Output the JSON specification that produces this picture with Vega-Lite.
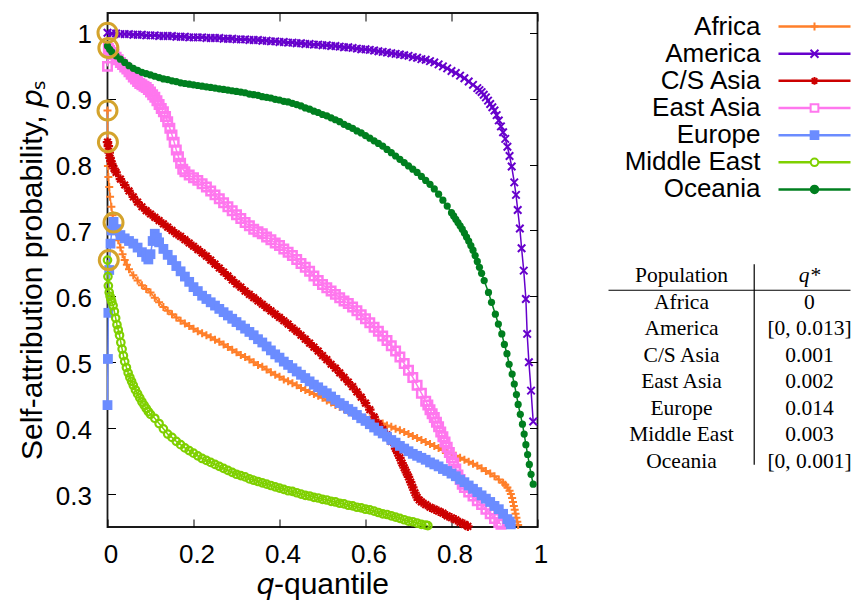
{
  "$schema": "https://vega.github.io/schema/vega-lite/v6.json",
  "padding": {"left": 15.5, "top": 11, "right": 0, "bottom": 0},
  "background": "white",
  "spacing": 64,
  "bounds": "flush",
  "config": {
    "view": {"stroke": null},
    "font": "Liberation Sans",
    "axis": {
      "grid": false,
      "domain": false,
      "tickColor": "#000",
      "tickWidth": 1,
      "tickSize": -8,
      "labelColor": "#000",
      "titleColor": "#000",
      "labelFont": "Liberation Sans",
      "titleFont": "Liberation Sans",
      "titleFontWeight": "normal",
      "labelFontSize": 26,
      "titleFontSize": 30
    }
  },
  "datasets": {
    "africa": [
      {"q":0,"p":0.882},{"q":0.001,"p":0.798},{"q":0.002,"p":0.781},{"q":0.004,"p":0.766},{"q":0.006,"p":0.751},{"q":0.009,"p":0.736},{"q":0.012,"p":0.723},{"q":0.016,"p":0.708},{"q":0.02,"p":0.697},{"q":0.025,"p":0.685},{"q":0.03,"p":0.674},{"q":0.035,"p":0.664},{"q":0.04,"p":0.655},{"q":0.045,"p":0.648},{"q":0.05,"p":0.641},{"q":0.06,"p":0.632},{"q":0.07,"p":0.624},{"q":0.08,"p":0.617},{"q":0.09,"p":0.611},{"q":0.1,"p":0.606},
      {"q":0.11,"p":0.598},{"q":0.12,"p":0.591},{"q":0.13,"p":0.584},{"q":0.14,"p":0.578},{"q":0.15,"p":0.573},{"q":0.16,"p":0.568},{"q":0.17,"p":0.563},{"q":0.18,"p":0.559},{"q":0.19,"p":0.555},{"q":0.2,"p":0.551},
      {"q":0.21,"p":0.547},{"q":0.22,"p":0.544},{"q":0.23,"p":0.541},{"q":0.24,"p":0.538},{"q":0.25,"p":0.534},{"q":0.26,"p":0.531},{"q":0.27,"p":0.527},{"q":0.28,"p":0.523},{"q":0.29,"p":0.519},{"q":0.3,"p":0.515},
      {"q":0.31,"p":0.511},{"q":0.32,"p":0.508},{"q":0.33,"p":0.504},{"q":0.34,"p":0.5},{"q":0.35,"p":0.496},{"q":0.36,"p":0.493},{"q":0.37,"p":0.489},{"q":0.38,"p":0.485},{"q":0.39,"p":0.481},{"q":0.4,"p":0.478},
      {"q":0.41,"p":0.474},{"q":0.42,"p":0.471},{"q":0.43,"p":0.468},{"q":0.44,"p":0.465},{"q":0.45,"p":0.461},{"q":0.46,"p":0.458},{"q":0.47,"p":0.455},{"q":0.48,"p":0.452},{"q":0.49,"p":0.449},{"q":0.5,"p":0.446},
      {"q":0.51,"p":0.442},{"q":0.52,"p":0.439},{"q":0.53,"p":0.435},{"q":0.54,"p":0.432},{"q":0.55,"p":0.429},{"q":0.56,"p":0.426},{"q":0.57,"p":0.423},{"q":0.58,"p":0.42},{"q":0.59,"p":0.417},{"q":0.6,"p":0.415},
      {"q":0.61,"p":0.413},{"q":0.62,"p":0.411},{"q":0.63,"p":0.409},{"q":0.64,"p":0.407},{"q":0.65,"p":0.404},{"q":0.66,"p":0.402},{"q":0.67,"p":0.399},{"q":0.68,"p":0.397},{"q":0.69,"p":0.394},{"q":0.7,"p":0.391},
      {"q":0.71,"p":0.388},{"q":0.72,"p":0.385},{"q":0.73,"p":0.382},{"q":0.74,"p":0.379},{"q":0.75,"p":0.376},{"q":0.76,"p":0.373},{"q":0.77,"p":0.37},{"q":0.78,"p":0.367},{"q":0.79,"p":0.364},{"q":0.8,"p":0.361},
      {"q":0.81,"p":0.358},{"q":0.82,"p":0.355},{"q":0.83,"p":0.352},{"q":0.84,"p":0.349},{"q":0.85,"p":0.346},{"q":0.86,"p":0.343},{"q":0.87,"p":0.339},{"q":0.88,"p":0.335},{"q":0.89,"p":0.331},{"q":0.9,"p":0.327},
      {"q":0.91,"p":0.322},{"q":0.92,"p":0.317},{"q":0.925,"p":0.314},{"q":0.93,"p":0.31},{"q":0.935,"p":0.305},{"q":0.938,"p":0.3},{"q":0.941,"p":0.294},{"q":0.943,"p":0.288},{"q":0.945,"p":0.282},{"q":0.947,"p":0.276},{"q":0.949,"p":0.27},{"q":0.951,"p":0.264},{"q":0.953,"p":0.258},{"q":0.955,"p":0.253}
    ],
    "america": [
      {"q":0,"p":1},{"q":0.01,"p":0.999},{"q":0.02,"p":0.999},{"q":0.03,"p":0.998},{"q":0.04,"p":0.998},{"q":0.05,"p":0.998},{"q":0.06,"p":0.997},{"q":0.07,"p":0.997},{"q":0.08,"p":0.997},{"q":0.09,"p":0.996},{"q":0.1,"p":0.996},
      {"q":0.11,"p":0.996},{"q":0.12,"p":0.995},{"q":0.13,"p":0.995},{"q":0.14,"p":0.995},{"q":0.15,"p":0.995},{"q":0.16,"p":0.994},{"q":0.17,"p":0.994},{"q":0.18,"p":0.994},{"q":0.19,"p":0.993},{"q":0.2,"p":0.993},
      {"q":0.21,"p":0.993},{"q":0.22,"p":0.993},{"q":0.23,"p":0.992},{"q":0.24,"p":0.992},{"q":0.25,"p":0.992},{"q":0.26,"p":0.992},{"q":0.27,"p":0.991},{"q":0.28,"p":0.991},{"q":0.29,"p":0.991},{"q":0.3,"p":0.99},
      {"q":0.31,"p":0.99},{"q":0.32,"p":0.99},{"q":0.33,"p":0.989},{"q":0.34,"p":0.989},{"q":0.35,"p":0.989},{"q":0.36,"p":0.988},{"q":0.37,"p":0.988},{"q":0.38,"p":0.987},{"q":0.39,"p":0.987},{"q":0.4,"p":0.986},
      {"q":0.41,"p":0.986},{"q":0.42,"p":0.985},{"q":0.43,"p":0.985},{"q":0.44,"p":0.984},{"q":0.45,"p":0.984},{"q":0.46,"p":0.983},{"q":0.47,"p":0.983},{"q":0.48,"p":0.982},{"q":0.49,"p":0.982},{"q":0.5,"p":0.981},
      {"q":0.51,"p":0.981},{"q":0.52,"p":0.98},{"q":0.53,"p":0.98},{"q":0.54,"p":0.979},{"q":0.55,"p":0.978},{"q":0.56,"p":0.978},{"q":0.57,"p":0.977},{"q":0.58,"p":0.976},{"q":0.59,"p":0.975},{"q":0.6,"p":0.975},
      {"q":0.61,"p":0.974},{"q":0.62,"p":0.973},{"q":0.63,"p":0.972},{"q":0.64,"p":0.971},{"q":0.65,"p":0.97},{"q":0.66,"p":0.969},{"q":0.67,"p":0.968},{"q":0.68,"p":0.967},{"q":0.69,"p":0.966},{"q":0.7,"p":0.965},
      {"q":0.71,"p":0.963},{"q":0.72,"p":0.962},{"q":0.73,"p":0.96},{"q":0.74,"p":0.959},{"q":0.75,"p":0.957},{"q":0.76,"p":0.955},{"q":0.77,"p":0.952},{"q":0.78,"p":0.949},{"q":0.79,"p":0.946},{"q":0.8,"p":0.942},
      {"q":0.81,"p":0.939},{"q":0.82,"p":0.935},{"q":0.83,"p":0.931},{"q":0.84,"p":0.926},{"q":0.85,"p":0.921},{"q":0.86,"p":0.916},{"q":0.865,"p":0.913},{"q":0.87,"p":0.91},{"q":0.875,"p":0.906},{"q":0.88,"p":0.902},
      {"q":0.885,"p":0.897},{"q":0.89,"p":0.892},{"q":0.895,"p":0.887},{"q":0.9,"p":0.882},{"q":0.905,"p":0.875},{"q":0.91,"p":0.867},{"q":0.915,"p":0.858},{"q":0.92,"p":0.849},{"q":0.925,"p":0.839},{"q":0.93,"p":0.827},
      {"q":0.935,"p":0.813},{"q":0.94,"p":0.797},{"q":0.946,"p":0.773},{"q":0.95,"p":0.754},{"q":0.954,"p":0.731},{"q":0.959,"p":0.703},{"q":0.963,"p":0.673},{"q":0.968,"p":0.639},{"q":0.973,"p":0.596},{"q":0.976,"p":0.543},
      {"q":0.98,"p":0.5},{"q":0.985,"p":0.457},{"q":0.99,"p":0.41}
    ],
    "csasia": [
      {"q":0,"p":0.834},{"q":0.002,"p":0.828},{"q":0.004,"p":0.818},{"q":0.006,"p":0.81},{"q":0.008,"p":0.805},{"q":0.01,"p":0.801},{"q":0.015,"p":0.794},{"q":0.02,"p":0.788},{"q":0.03,"p":0.778},{"q":0.04,"p":0.769},{"q":0.05,"p":0.76},
      {"q":0.06,"p":0.751},{"q":0.07,"p":0.743},{"q":0.08,"p":0.736},{"q":0.09,"p":0.73},{"q":0.1,"p":0.725},{"q":0.11,"p":0.72},{"q":0.12,"p":0.715},{"q":0.13,"p":0.71},{"q":0.14,"p":0.705},{"q":0.15,"p":0.7},
      {"q":0.16,"p":0.695},{"q":0.17,"p":0.691},{"q":0.18,"p":0.686},{"q":0.19,"p":0.681},{"q":0.2,"p":0.676},{"q":0.21,"p":0.671},{"q":0.22,"p":0.666},{"q":0.23,"p":0.661},{"q":0.24,"p":0.655},{"q":0.25,"p":0.649},
      {"q":0.26,"p":0.643},{"q":0.27,"p":0.637},{"q":0.28,"p":0.631},{"q":0.29,"p":0.625},{"q":0.3,"p":0.619},{"q":0.31,"p":0.614},{"q":0.32,"p":0.608},{"q":0.33,"p":0.603},{"q":0.34,"p":0.598},{"q":0.35,"p":0.593},
      {"q":0.36,"p":0.588},{"q":0.37,"p":0.583},{"q":0.38,"p":0.578},{"q":0.39,"p":0.573},{"q":0.4,"p":0.568},{"q":0.41,"p":0.563},{"q":0.42,"p":0.558},{"q":0.43,"p":0.552},{"q":0.44,"p":0.547},{"q":0.45,"p":0.541},
      {"q":0.46,"p":0.535},{"q":0.47,"p":0.529},{"q":0.48,"p":0.523},{"q":0.49,"p":0.517},{"q":0.5,"p":0.51},{"q":0.51,"p":0.504},{"q":0.52,"p":0.497},{"q":0.53,"p":0.491},{"q":0.54,"p":0.484},{"q":0.55,"p":0.477},
      {"q":0.56,"p":0.47},{"q":0.57,"p":0.463},{"q":0.58,"p":0.455},{"q":0.59,"p":0.447},{"q":0.6,"p":0.438},{"q":0.61,"p":0.428},{"q":0.62,"p":0.417},{"q":0.63,"p":0.407},{"q":0.64,"p":0.398},{"q":0.65,"p":0.39},
      {"q":0.66,"p":0.38},{"q":0.67,"p":0.369},{"q":0.675,"p":0.362},{"q":0.68,"p":0.355},{"q":0.685,"p":0.347},{"q":0.69,"p":0.34},{"q":0.695,"p":0.333},{"q":0.7,"p":0.326},{"q":0.705,"p":0.318},{"q":0.71,"p":0.31},
      {"q":0.715,"p":0.302},{"q":0.72,"p":0.295},{"q":0.725,"p":0.291},{"q":0.73,"p":0.288},{"q":0.74,"p":0.284},{"q":0.75,"p":0.28},{"q":0.76,"p":0.277},{"q":0.77,"p":0.274},{"q":0.78,"p":0.271},{"q":0.79,"p":0.267},
      {"q":0.8,"p":0.264},{"q":0.81,"p":0.261},{"q":0.82,"p":0.257},{"q":0.83,"p":0.254},{"q":0.838,"p":0.251}
    ],
    "eastasia": [
      {"q":0,"p":0.949},{"q":0.002,"p":0.976},{"q":0.005,"p":0.973},{"q":0.01,"p":0.97},{"q":0.015,"p":0.967},{"q":0.02,"p":0.963},{"q":0.025,"p":0.959},{"q":0.03,"p":0.955},{"q":0.035,"p":0.952},{"q":0.04,"p":0.948},{"q":0.045,"p":0.945},{"q":0.05,"p":0.941},
      {"q":0.055,"p":0.937},{"q":0.06,"p":0.933},{"q":0.065,"p":0.93},{"q":0.07,"p":0.926},{"q":0.075,"p":0.923},{"q":0.08,"p":0.921},{"q":0.085,"p":0.919},{"q":0.09,"p":0.917},{"q":0.095,"p":0.914},{"q":0.1,"p":0.91},{"q":0.105,"p":0.906},{"q":0.11,"p":0.902},{"q":0.115,"p":0.897},{"q":0.12,"p":0.891},{"q":0.125,"p":0.885},
      {"q":0.13,"p":0.88},{"q":0.135,"p":0.873},{"q":0.14,"p":0.865},{"q":0.145,"p":0.855},{"q":0.15,"p":0.845},{"q":0.155,"p":0.834},{"q":0.16,"p":0.822},{"q":0.165,"p":0.812},{"q":0.17,"p":0.802},{"q":0.175,"p":0.793},
      {"q":0.18,"p":0.789},{"q":0.19,"p":0.784},{"q":0.2,"p":0.78},{"q":0.21,"p":0.776},{"q":0.22,"p":0.771},{"q":0.23,"p":0.766},{"q":0.24,"p":0.76},{"q":0.25,"p":0.754},{"q":0.26,"p":0.748},{"q":0.27,"p":0.742},
      {"q":0.28,"p":0.736},{"q":0.29,"p":0.73},{"q":0.3,"p":0.724},{"q":0.31,"p":0.718},{"q":0.32,"p":0.712},{"q":0.33,"p":0.707},{"q":0.34,"p":0.702},{"q":0.35,"p":0.698},{"q":0.36,"p":0.695},{"q":0.37,"p":0.69},
      {"q":0.38,"p":0.686},{"q":0.39,"p":0.681},{"q":0.4,"p":0.677},{"q":0.41,"p":0.672},{"q":0.42,"p":0.667},{"q":0.43,"p":0.662},{"q":0.44,"p":0.656},{"q":0.45,"p":0.65},{"q":0.46,"p":0.644},{"q":0.47,"p":0.638},
      {"q":0.48,"p":0.631},{"q":0.49,"p":0.624},{"q":0.5,"p":0.618},{"q":0.51,"p":0.613},{"q":0.52,"p":0.608},{"q":0.53,"p":0.603},{"q":0.54,"p":0.598},{"q":0.55,"p":0.593},{"q":0.56,"p":0.589},{"q":0.57,"p":0.584},
      {"q":0.58,"p":0.578},{"q":0.59,"p":0.572},{"q":0.6,"p":0.566},{"q":0.61,"p":0.56},{"q":0.62,"p":0.553},{"q":0.63,"p":0.547},{"q":0.64,"p":0.54},{"q":0.65,"p":0.533},{"q":0.66,"p":0.525},{"q":0.67,"p":0.517},
      {"q":0.68,"p":0.508},{"q":0.69,"p":0.498},{"q":0.7,"p":0.488},{"q":0.71,"p":0.477},{"q":0.72,"p":0.465},{"q":0.73,"p":0.453},{"q":0.74,"p":0.441},{"q":0.745,"p":0.435},{"q":0.75,"p":0.428},{"q":0.755,"p":0.422},
      {"q":0.76,"p":0.416},{"q":0.765,"p":0.409},{"q":0.77,"p":0.402},{"q":0.775,"p":0.394},{"q":0.78,"p":0.387},{"q":0.785,"p":0.379},{"q":0.79,"p":0.371},{"q":0.795,"p":0.363},{"q":0.8,"p":0.355},{"q":0.805,"p":0.347},
      {"q":0.81,"p":0.338},{"q":0.815,"p":0.329},{"q":0.82,"p":0.322},{"q":0.825,"p":0.315},{"q":0.83,"p":0.31},{"q":0.84,"p":0.303},{"q":0.85,"p":0.297},{"q":0.86,"p":0.29},{"q":0.87,"p":0.284},{"q":0.88,"p":0.277},
      {"q":0.89,"p":0.27},{"q":0.9,"p":0.263},{"q":0.91,"p":0.257},{"q":0.915,"p":0.254}
    ],
    "europe": [
      {"q":0,"p":0.435},{"q":0.001,"p":0.505},{"q":0.002,"p":0.575},{"q":0.004,"p":0.64},{"q":0.007,"p":0.68},{"q":0.01,"p":0.7},{"q":0.014,"p":0.713},{"q":0.02,"p":0.702},{"q":0.03,"p":0.693},{"q":0.04,"p":0.688},
      {"q":0.05,"p":0.684},{"q":0.06,"p":0.68},{"q":0.07,"p":0.674},{"q":0.08,"p":0.667},{"q":0.09,"p":0.66},{"q":0.095,"p":0.656},{"q":0.1,"p":0.664},{"q":0.105,"p":0.684},{"q":0.11,"p":0.695},{"q":0.115,"p":0.689},
      {"q":0.12,"p":0.682},{"q":0.13,"p":0.672},{"q":0.14,"p":0.663},{"q":0.15,"p":0.655},{"q":0.16,"p":0.646},{"q":0.17,"p":0.638},{"q":0.18,"p":0.63},{"q":0.19,"p":0.622},{"q":0.2,"p":0.614},{"q":0.21,"p":0.608},
      {"q":0.22,"p":0.601},{"q":0.23,"p":0.596},{"q":0.24,"p":0.591},{"q":0.25,"p":0.586},{"q":0.26,"p":0.581},{"q":0.27,"p":0.576},{"q":0.28,"p":0.571},{"q":0.29,"p":0.566},{"q":0.3,"p":0.561},{"q":0.31,"p":0.556},
      {"q":0.32,"p":0.551},{"q":0.33,"p":0.546},{"q":0.34,"p":0.541},{"q":0.35,"p":0.535},{"q":0.36,"p":0.53},{"q":0.37,"p":0.524},{"q":0.38,"p":0.518},{"q":0.39,"p":0.512},{"q":0.4,"p":0.507},{"q":0.41,"p":0.501},
      {"q":0.42,"p":0.496},{"q":0.43,"p":0.491},{"q":0.44,"p":0.486},{"q":0.45,"p":0.481},{"q":0.46,"p":0.476},{"q":0.47,"p":0.471},{"q":0.48,"p":0.466},{"q":0.49,"p":0.462},{"q":0.5,"p":0.457},{"q":0.51,"p":0.453},
      {"q":0.52,"p":0.448},{"q":0.53,"p":0.443},{"q":0.54,"p":0.438},{"q":0.55,"p":0.434},{"q":0.56,"p":0.429},{"q":0.57,"p":0.425},{"q":0.58,"p":0.42},{"q":0.59,"p":0.415},{"q":0.6,"p":0.411},{"q":0.61,"p":0.406},
      {"q":0.62,"p":0.401},{"q":0.63,"p":0.396},{"q":0.64,"p":0.392},{"q":0.65,"p":0.387},{"q":0.66,"p":0.382},{"q":0.67,"p":0.378},{"q":0.68,"p":0.373},{"q":0.69,"p":0.369},{"q":0.7,"p":0.365},{"q":0.71,"p":0.361},
      {"q":0.72,"p":0.358},{"q":0.73,"p":0.355},{"q":0.74,"p":0.352},{"q":0.75,"p":0.348},{"q":0.76,"p":0.345},{"q":0.77,"p":0.342},{"q":0.78,"p":0.338},{"q":0.79,"p":0.335},{"q":0.8,"p":0.331},{"q":0.81,"p":0.327},
      {"q":0.82,"p":0.322},{"q":0.83,"p":0.318},{"q":0.84,"p":0.313},{"q":0.85,"p":0.308},{"q":0.86,"p":0.303},{"q":0.87,"p":0.298},{"q":0.88,"p":0.293},{"q":0.89,"p":0.288},{"q":0.9,"p":0.282},{"q":0.91,"p":0.277},
      {"q":0.92,"p":0.27},{"q":0.93,"p":0.262},{"q":0.935,"p":0.258},{"q":0.938,"p":0.254}
    ],
    "middleeast": [
      {"q":0,"p":0.655},{"q":0.001,"p":0.63},{"q":0.002,"p":0.616},{"q":0.004,"p":0.606},{"q":0.006,"p":0.6},{"q":0.008,"p":0.596},{"q":0.01,"p":0.592},{"q":0.013,"p":0.586},{"q":0.016,"p":0.577},{"q":0.019,"p":0.567},
      {"q":0.022,"p":0.557},{"q":0.025,"p":0.549},{"q":0.028,"p":0.541},{"q":0.031,"p":0.53},{"q":0.034,"p":0.52},{"q":0.037,"p":0.51},{"q":0.04,"p":0.501},{"q":0.044,"p":0.492},{"q":0.048,"p":0.484},{"q":0.052,"p":0.477},
      {"q":0.056,"p":0.471},{"q":0.06,"p":0.465},{"q":0.065,"p":0.458},{"q":0.07,"p":0.452},{"q":0.075,"p":0.446},{"q":0.08,"p":0.44},{"q":0.085,"p":0.435},{"q":0.09,"p":0.43},{"q":0.095,"p":0.425},{"q":0.1,"p":0.421},
      {"q":0.11,"p":0.415},{"q":0.12,"p":0.407},{"q":0.13,"p":0.399},{"q":0.14,"p":0.391},{"q":0.15,"p":0.386},{"q":0.16,"p":0.38},{"q":0.17,"p":0.375},{"q":0.18,"p":0.37},{"q":0.19,"p":0.366},{"q":0.2,"p":0.362},
      {"q":0.21,"p":0.358},{"q":0.22,"p":0.354},{"q":0.23,"p":0.351},{"q":0.24,"p":0.348},{"q":0.25,"p":0.345},{"q":0.26,"p":0.342},{"q":0.27,"p":0.339},{"q":0.28,"p":0.336},{"q":0.29,"p":0.333},{"q":0.3,"p":0.33},
      {"q":0.31,"p":0.328},{"q":0.32,"p":0.326},{"q":0.33,"p":0.323},{"q":0.34,"p":0.321},{"q":0.35,"p":0.319},{"q":0.36,"p":0.317},{"q":0.37,"p":0.315},{"q":0.38,"p":0.313},{"q":0.39,"p":0.311},{"q":0.4,"p":0.309},
      {"q":0.41,"p":0.307},{"q":0.42,"p":0.305},{"q":0.43,"p":0.304},{"q":0.44,"p":0.302},{"q":0.45,"p":0.3},{"q":0.46,"p":0.298},{"q":0.47,"p":0.297},{"q":0.48,"p":0.295},{"q":0.49,"p":0.294},{"q":0.5,"p":0.292},
      {"q":0.51,"p":0.291},{"q":0.52,"p":0.289},{"q":0.53,"p":0.288},{"q":0.54,"p":0.286},{"q":0.55,"p":0.285},{"q":0.56,"p":0.283},{"q":0.57,"p":0.282},{"q":0.58,"p":0.28},{"q":0.59,"p":0.279},{"q":0.6,"p":0.277},
      {"q":0.61,"p":0.276},{"q":0.62,"p":0.274},{"q":0.63,"p":0.272},{"q":0.64,"p":0.27},{"q":0.65,"p":0.269},{"q":0.66,"p":0.267},{"q":0.67,"p":0.265},{"q":0.68,"p":0.263},{"q":0.69,"p":0.261},{"q":0.7,"p":0.259},
      {"q":0.71,"p":0.258},{"q":0.72,"p":0.256},{"q":0.73,"p":0.254},{"q":0.74,"p":0.253},{"q":0.745,"p":0.252}
    ],
    "oceania": [
      {"q":0,"p":0.98},{"q":0.005,"p":0.975},{"q":0.01,"p":0.971},{"q":0.02,"p":0.965},{"q":0.03,"p":0.96},{"q":0.04,"p":0.955},{"q":0.05,"p":0.95},{"q":0.06,"p":0.946},{"q":0.07,"p":0.943},{"q":0.08,"p":0.94},
      {"q":0.09,"p":0.938},{"q":0.1,"p":0.936},{"q":0.11,"p":0.934},{"q":0.12,"p":0.932},{"q":0.13,"p":0.93},{"q":0.14,"p":0.929},{"q":0.15,"p":0.927},{"q":0.16,"p":0.926},{"q":0.17,"p":0.924},{"q":0.18,"p":0.923},
      {"q":0.19,"p":0.922},{"q":0.2,"p":0.921},{"q":0.21,"p":0.92},{"q":0.22,"p":0.919},{"q":0.23,"p":0.918},{"q":0.24,"p":0.917},{"q":0.25,"p":0.916},{"q":0.26,"p":0.915},{"q":0.27,"p":0.914},{"q":0.28,"p":0.913},
      {"q":0.29,"p":0.912},{"q":0.3,"p":0.911},{"q":0.31,"p":0.91},{"q":0.32,"p":0.909},{"q":0.33,"p":0.907},{"q":0.34,"p":0.906},{"q":0.35,"p":0.905},{"q":0.36,"p":0.903},{"q":0.37,"p":0.902},{"q":0.38,"p":0.901},
      {"q":0.39,"p":0.899},{"q":0.4,"p":0.898},{"q":0.41,"p":0.896},{"q":0.42,"p":0.895},{"q":0.43,"p":0.893},{"q":0.44,"p":0.891},{"q":0.45,"p":0.889},{"q":0.46,"p":0.886},{"q":0.47,"p":0.884},{"q":0.48,"p":0.881},
      {"q":0.49,"p":0.879},{"q":0.5,"p":0.876},{"q":0.51,"p":0.874},{"q":0.52,"p":0.871},{"q":0.53,"p":0.868},{"q":0.54,"p":0.865},{"q":0.55,"p":0.861},{"q":0.56,"p":0.858},{"q":0.57,"p":0.855},{"q":0.58,"p":0.851},
      {"q":0.59,"p":0.848},{"q":0.6,"p":0.844},{"q":0.61,"p":0.84},{"q":0.62,"p":0.836},{"q":0.63,"p":0.832},{"q":0.64,"p":0.828},{"q":0.65,"p":0.823},{"q":0.66,"p":0.818},{"q":0.67,"p":0.813},{"q":0.68,"p":0.808},
      {"q":0.69,"p":0.803},{"q":0.7,"p":0.798},{"q":0.71,"p":0.793},{"q":0.72,"p":0.788},{"q":0.73,"p":0.782},{"q":0.74,"p":0.776},{"q":0.75,"p":0.77},{"q":0.76,"p":0.763},{"q":0.77,"p":0.755},{"q":0.78,"p":0.746},
      {"q":0.79,"p":0.737},{"q":0.8,"p":0.727},{"q":0.805,"p":0.722},{"q":0.81,"p":0.717},{"q":0.815,"p":0.712},{"q":0.82,"p":0.707},{"q":0.825,"p":0.702},{"q":0.83,"p":0.696},{"q":0.835,"p":0.69},{"q":0.84,"p":0.684},
      {"q":0.845,"p":0.677},{"q":0.85,"p":0.67},{"q":0.855,"p":0.662},{"q":0.86,"p":0.653},{"q":0.865,"p":0.644},{"q":0.87,"p":0.635},{"q":0.876,"p":0.624},{"q":0.886,"p":0.606},{"q":0.893,"p":0.591},{"q":0.902,"p":0.573},
      {"q":0.909,"p":0.558},{"q":0.917,"p":0.543},{"q":0.923,"p":0.527},{"q":0.929,"p":0.513},{"q":0.934,"p":0.497},{"q":0.941,"p":0.482},{"q":0.946,"p":0.467},{"q":0.951,"p":0.451},{"q":0.955,"p":0.436},{"q":0.96,"p":0.421},
      {"q":0.965,"p":0.406},{"q":0.969,"p":0.391},{"q":0.973,"p":0.375},{"q":0.977,"p":0.36},{"q":0.981,"p":0.345},{"q":0.985,"p":0.33},{"q":0.99,"p":0.315}
    ],
    "qstar_points": [
      {"region":"America","q":0,"p":1.0},
      {"region":"East Asia / Oceania","q":0.002,"p":0.977},
      {"region":"Africa","q":0,"p":0.882},
      {"region":"C/S Asia","q":0.001,"p":0.834},
      {"region":"Europe","q":0.014,"p":0.712},
      {"region":"Middle East","q":0.003,"p":0.655}
    ],
    "regions": [
      {"region":"Africa"},{"region":"America"},{"region":"C/S Asia"},{"region":"East Asia"},{"region":"Europe"},{"region":"Middle East"},{"region":"Oceania"}
    ],
    "qstar_table": [
      {"population":"Africa","qstar":"0"},
      {"population":"America","qstar":"[0, 0.013]"},
      {"population":"C/S Asia","qstar":"0.001"},
      {"population":"East Asia","qstar":"0.002"},
      {"population":"Europe","qstar":"0.014"},
      {"population":"Middle East","qstar":"0.003"},
      {"population":"Oceania","qstar":"[0, 0.001]"}
    ],
    "table_header": [
      {"population":"Population","qstar":"q*"}
    ]
  },
  "hconcat": [
    {
      "width": 430,
      "height": 514,
      "view": {"stroke": "#1a1a1a", "strokeWidth": 1.8},
      "resolve": {"axis": {"x": "independent", "y": "independent"}},
      "layer": [
        {
          "encoding": {
            "x": {
              "field": "q", "type": "quantitative",
              "scale": {"domain": [0, 1], "nice": false, "zero": false},
              "axis": {"values": [0, 0.2, 0.4, 0.6, 0.8, 1], "format": "~g", "labelPadding": 22, "labelOffset": 3, "labelFlush": false, "title": "𝑞-quantile", "titlePadding": 2}
            },
            "y": {
              "field": "p", "type": "quantitative",
              "scale": {"domain": [0.25, 1.03], "nice": false, "zero": false},
              "axis": {"values": [0.3, 0.4, 0.5, 0.6, 0.7, 0.8, 0.9, 1], "format": "~g", "labelPadding": 24, "labelOffset": 2, "labelFlush": false, "title": "Self-attribution probability, 𝑝ₛ", "titlePadding": 8}
            }
          },
          "layer": [
            {"data": {"name": "africa"}, "layer": [
              {"mark": {"type": "line", "color": "#ff7f2a", "strokeWidth": 1.5}},
              {"mark": {"type": "point", "shape": "M-1,0H1M0,-1V1", "size": 64, "filled": false, "stroke": "#ff7f2a", "strokeWidth": 2, "opacity": 1}}
            ]},
            {"data": {"name": "america"}, "layer": [
              {"mark": {"type": "line", "color": "#6600cc", "strokeWidth": 1.5}},
              {"mark": {"type": "point", "shape": "M-1,-1L1,1M-1,1L1,-1", "size": 56, "filled": false, "stroke": "#6600cc", "strokeWidth": 2, "opacity": 1}}
            ]},
            {"data": {"name": "csasia"}, "layer": [
              {"mark": {"type": "line", "color": "#cc0000", "strokeWidth": 1.5}},
              {"mark": {"type": "point", "shape": "M-1,0H1M0,-1V1M-0.7,-0.7L0.7,0.7M-0.7,0.7L0.7,-0.7", "size": 90, "filled": false, "stroke": "#cc0000", "strokeWidth": 2.2, "opacity": 1}}
            ]},
            {"data": {"name": "eastasia"}, "layer": [
              {"mark": {"type": "line", "color": "#ff77ee", "strokeWidth": 1.5}},
              {"mark": {"type": "point", "shape": "square", "size": 72, "filled": false, "stroke": "#ff77ee", "strokeWidth": 2.5, "opacity": 1}}
            ]},
            {"data": {"name": "europe"}, "layer": [
              {"mark": {"type": "line", "color": "#6b8cff", "strokeWidth": 1.5}},
              {"mark": {"type": "point", "shape": "square", "size": 96, "filled": true, "color": "#6b8cff", "opacity": 1}}
            ]},
            {"data": {"name": "middleeast"}, "layer": [
              {"mark": {"type": "line", "color": "#7fd000", "strokeWidth": 1.5}},
              {"mark": {"type": "point", "shape": "circle", "size": 56, "filled": false, "stroke": "#7fd000", "strokeWidth": 2.2, "opacity": 1}}
            ]},
            {"data": {"name": "oceania"}, "layer": [
              {"mark": {"type": "line", "color": "#007f1f", "strokeWidth": 1.5}},
              {"mark": {"type": "point", "shape": "circle", "size": 52, "filled": true, "color": "#007f1f", "opacity": 1}}
            ]},
            {"data": {"name": "qstar_points"},
             "mark": {"type": "point", "shape": "circle", "size": 361, "filled": false, "stroke": "#d4a32c", "strokeWidth": 3, "opacity": 1}}
          ]
        },
        {
          "data": {"name": "qstar_points"},
          "mark": {"type": "point", "opacity": 0},
          "encoding": {
            "x": {
              "field": "q", "type": "quantitative",
              "scale": {"domain": [0, 1], "nice": false, "zero": false},
              "axis": {"orient": "top", "values": [0, 0.2, 0.4, 0.6, 0.8, 1], "labels": false, "title": null}
            },
            "y": {
              "field": "p", "type": "quantitative",
              "scale": {"domain": [0.25, 1.03], "nice": false, "zero": false},
              "axis": {"orient": "right", "values": [0.3, 0.4, 0.5, 0.6, 0.7, 0.8, 0.9, 1], "labels": false, "title": null}
            }
          }
        }
      ]
    },
    {
      "vconcat": [
        {
          "width": 253,
          "height": 190,
          "data": {"name": "regions"},
          "encoding": {
            "y": {
              "field": "region", "type": "nominal",
              "scale": {"type": "point", "padding": 0.5, "domain": ["Africa", "America", "C/S Asia", "East Asia", "Europe", "Middle East", "Oceania"]},
              "axis": null
            }
          },
          "layer": [
            {
              "mark": {"type": "text", "align": "right", "baseline": "middle", "fontSize": 26, "font": "Liberation Sans", "color": "#000"},
              "encoding": {
                "x": {"datum": 0.6285, "type": "quantitative", "scale": {"domain": [0, 1], "nice": false, "zero": false}, "axis": null},
                "text": {"field": "region"}
              }
            },
            {
              "mark": {"type": "rule", "strokeWidth": 2.5},
              "encoding": {
                "x": {"datum": 0.6996, "type": "quantitative"},
                "x2": {"datum": 0.9842},
                "color": {
                  "field": "region", "type": "nominal", "legend": null,
                  "scale": {"domain": ["Africa", "America", "C/S Asia", "East Asia", "Europe", "Middle East", "Oceania"],
                            "range": ["#ff7f2a", "#6600cc", "#cc0000", "#ff77ee", "#6b8cff", "#7fd000", "#007f1f"]}
                }
              }
            },
            {
              "mark": {"type": "point", "filled": false, "strokeWidth": 2, "opacity": 1},
              "encoding": {
                "x": {"datum": 0.8419, "type": "quantitative"},
                "shape": {
                  "field": "region", "type": "nominal", "legend": null,
                  "scale": {"domain": ["Africa", "America", "C/S Asia", "East Asia", "Europe", "Middle East", "Oceania"],
                            "range": ["M-1,0H1M0,-1V1", "M-1,-1L1,1M-1,1L1,-1", "M-1,0H1M0,-1V1M-0.7,-0.7L0.7,0.7M-0.7,0.7L0.7,-0.7", "square", "square", "circle", "circle"]}
                },
                "size": {
                  "field": "region", "type": "nominal", "legend": null,
                  "scale": {"domain": ["Africa", "America", "C/S Asia", "East Asia", "Europe", "Middle East", "Oceania"],
                            "range": [64, 56, 90, 72, 96, 56, 52]}
                },
                "stroke": {
                  "field": "region", "type": "nominal", "legend": null,
                  "scale": {"domain": ["Africa", "America", "C/S Asia", "East Asia", "Europe", "Middle East", "Oceania"],
                            "range": ["#ff7f2a", "#6600cc", "#cc0000", "#ff77ee", "#6b8cff", "#7fd000", "#007f1f"]}
                },
                "fill": {
                  "field": "region", "type": "nominal", "legend": null,
                  "scale": {"domain": ["Africa", "America", "C/S Asia", "East Asia", "Europe", "Middle East", "Oceania"],
                            "range": ["transparent", "transparent", "transparent", "white", "#6b8cff", "white", "#007f1f"]}
                }
              }
            }
          ]
        },
        {
          "width": 253,
          "height": 212,
          "encoding": {
            "y": {
              "field": "population", "type": "nominal",
              "scale": {"type": "point", "padding": 0.5, "domain": ["Population", "Africa", "America", "C/S Asia", "East Asia", "Europe", "Middle East", "Oceania"]},
              "axis": null
            }
          },
          "layer": [
            {
              "data": {"name": "qstar_table"},
              "mark": {"type": "text", "align": "center", "baseline": "middle", "fontSize": 21.5, "font": "Liberation Serif", "color": "#000"},
              "encoding": {
                "x": {"datum": 0.3162, "type": "quantitative", "scale": {"domain": [0, 1], "nice": false, "zero": false}, "axis": null},
                "text": {"field": "population"}
              }
            },
            {
              "data": {"name": "qstar_table"},
              "mark": {"type": "text", "align": "center", "baseline": "middle", "fontSize": 21.5, "font": "Liberation Serif", "color": "#000"},
              "encoding": {
                "x": {"datum": 0.8221, "type": "quantitative"},
                "text": {"field": "qstar"}
              }
            },
            {
              "data": {"name": "table_header"},
              "mark": {"type": "text", "align": "center", "baseline": "middle", "fontSize": 21.5, "font": "Liberation Serif", "color": "#000"},
              "encoding": {
                "x": {"datum": 0.3162, "type": "quantitative"},
                "text": {"field": "population"}
              }
            },
            {
              "data": {"name": "table_header"},
              "mark": {"type": "text", "align": "center", "baseline": "middle", "fontSize": 21.5, "font": "Liberation Serif", "fontStyle": "italic", "color": "#000"},
              "encoding": {
                "x": {"datum": 0.8221, "type": "quantitative"},
                "text": {"field": "qstar"}
              }
            },
            {
              "data": {"name": "table_header"},
              "mark": {"type": "rule", "color": "#000", "strokeWidth": 1.2, "yOffset": 14},
              "encoding": {
                "x": {"datum": 0.0277, "type": "quantitative"},
                "x2": {"datum": 0.9842}
              }
            },
            {
              "data": {"name": "table_header"},
              "mark": {"type": "rule", "color": "#000", "strokeWidth": 1.2, "yOffset": -12, "y2Offset": 3},
              "encoding": {
                "x": {"datum": 0.6036, "type": "quantitative"},
                "y2": {"datum": "Oceania"}
              }
            }
          ]
        }
      ],
      "spacing": 60,
      "bounds": "flush"
    }
  ]
}
